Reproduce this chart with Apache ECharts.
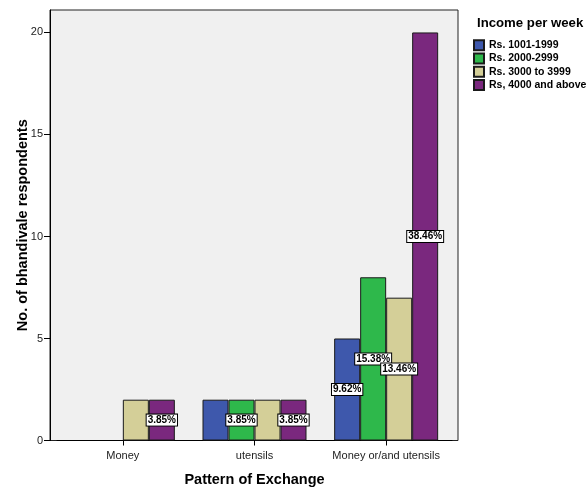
<!DOCTYPE html>
<html>
<head>
<meta charset="utf-8">
<script src="https://cdn.jsdelivr.net/npm/echarts@6/dist/echarts.min.js"></script>
<style>
  html, body { margin: 0; padding: 0; background: #fff; }
  #chart { width: 587px; height: 488px; }
</style>
</head>
<body>
<div id="chart"></div>
<script>
// Pattern of exchange by weekly income group
const categories = ['Money', 'utensils', 'Money or/and utensils'];
const incomeGroups = ['Rs. 1001-1999', 'Rs. 2000-2999', 'Rs. 3000 to 3999', 'Rs, 4000 and above'];
const counts1001 = [null, 2, 5];
const counts2000 = [null, 2, 8];
const counts3000 = [2, 2, 7];
const counts4000 = [2, 2, 20];
// which bars carry a percentage label
const labels1001 = [false, false, true];
const labels2000 = [false, true, true];
const labels3000 = [false, false, true];
const labels4000 = [true, true, true];
const yTicks = [0, 5, 10, 15, 20];

const colors = ['#3E58AC', '#2EB84B', '#D4CF98', '#7A287E'];
const FONT = '"Liberation Sans", Arial, sans-serif';
const yMax = 21.1;

const allCounts = [counts1001, counts2000, counts3000, counts4000];
const allLabels = [labels1001, labels2000, labels3000, labels4000];
const total = allCounts.flat().reduce((s, v) => s + (v || 0), 0);

const series = incomeGroups.map((name, i) => ({
  name: name,
  type: 'bar',
  xAxisIndex: 1,
  yAxisIndex: 1,
  barWidth: 26,
  barGap: '0%',
  itemStyle: { color: colors[i], borderColor: '#1a1a1a', borderWidth: 1 },
  data: allCounts[i].map((v, j) => ({
    value: v,
    label: {
      show: allLabels[i][j] && v != null,
      position: 'inside',
      formatter: () => (v / total * 100).toFixed(2) + '%',
      color: '#000',
      fontFamily: FONT,
      fontWeight: 'bold',
      fontSize: 10,
      backgroundColor: '#fff',
      borderColor: '#000',
      borderWidth: 1,
      padding: [1, 1, 0, 1]
    }
  }))
}));

const chart = echarts.init(document.getElementById('chart'), null, { renderer: 'canvas' });
chart.setOption({
  animation: false,
  backgroundColor: '#fff',
  textStyle: { fontFamily: FONT },
  title: {
    text: 'Income per week',
    left: 472,
    top: 12,
    textStyle: { fontFamily: FONT, fontWeight: 'bold', fontSize: 13.2, color: '#000' }
  },
  legend: {
    orient: 'vertical',
    left: 468,
    top: 33.5,
    itemWidth: 10,
    itemHeight: 10,
    itemGap: 0,
    icon: 'rect',
    data: incomeGroups,
    textStyle: { fontFamily: FONT, fontWeight: 'bold', fontSize: 10.5, lineHeight: 13.3, color: '#000' }
  },
  grid: [
    // frame of the plot area
    { left: 50, top: 10, width: 408, bottom: 47.5, show: true, backgroundColor: '#F0F0F0',
      borderColor: '#222', borderWidth: 1, outerBoundsMode: 'none' },
    // area holding the bars
    { left: 57, top: 10, width: 395, bottom: 47.5, outerBoundsMode: 'none' }
  ],
  xAxis: [
    { gridIndex: 0, type: 'value', show: false, min: 0, max: 1 },
    {
      gridIndex: 1,
      type: 'category',
      data: categories,
      name: 'Pattern of Exchange',
      nameLocation: 'middle',
      nameGap: 32,
      nameMoveOverlap: false,
      nameTextStyle: { fontFamily: FONT, fontWeight: 'bold', fontSize: 14.5, color: '#000' },
      axisLine: { show: true, lineStyle: { color: '#000', width: 1 } },
      axisTick: { show: true, alignWithLabel: true, length: 5, lineStyle: { color: '#000' } },
      axisLabel: { fontFamily: FONT, fontSize: 11, color: '#222', margin: 10, interval: 0 },
      splitLine: { show: false }
    }
  ],
  yAxis: [
    {
      gridIndex: 0,
      type: 'value',
      min: 0,
      max: yMax,
      interval: 5,
      name: 'No. of bhandivale respondents',
      nameLocation: 'middle',
      nameGap: 20,
      nameMoveOverlap: false,
      nameTextStyle: { fontFamily: FONT, fontWeight: 'bold', fontSize: 14.5, color: '#000' },
      axisLine: { show: true, lineStyle: { color: '#000', width: 1 } },
      axisTick: { show: true, length: 6, lineStyle: { color: '#000' } },
      axisLabel: {
        fontFamily: FONT, fontSize: 11, color: '#222', margin: 7,
        showMaxLabel: false,
        formatter: v => (yTicks.includes(v) ? String(v) : '')
      },
      splitLine: { show: false }
    },
    { gridIndex: 1, type: 'value', min: 0, max: yMax, show: false, splitLine: { show: false } }
  ],
  series: series
});
</script>
</body>
</html>
